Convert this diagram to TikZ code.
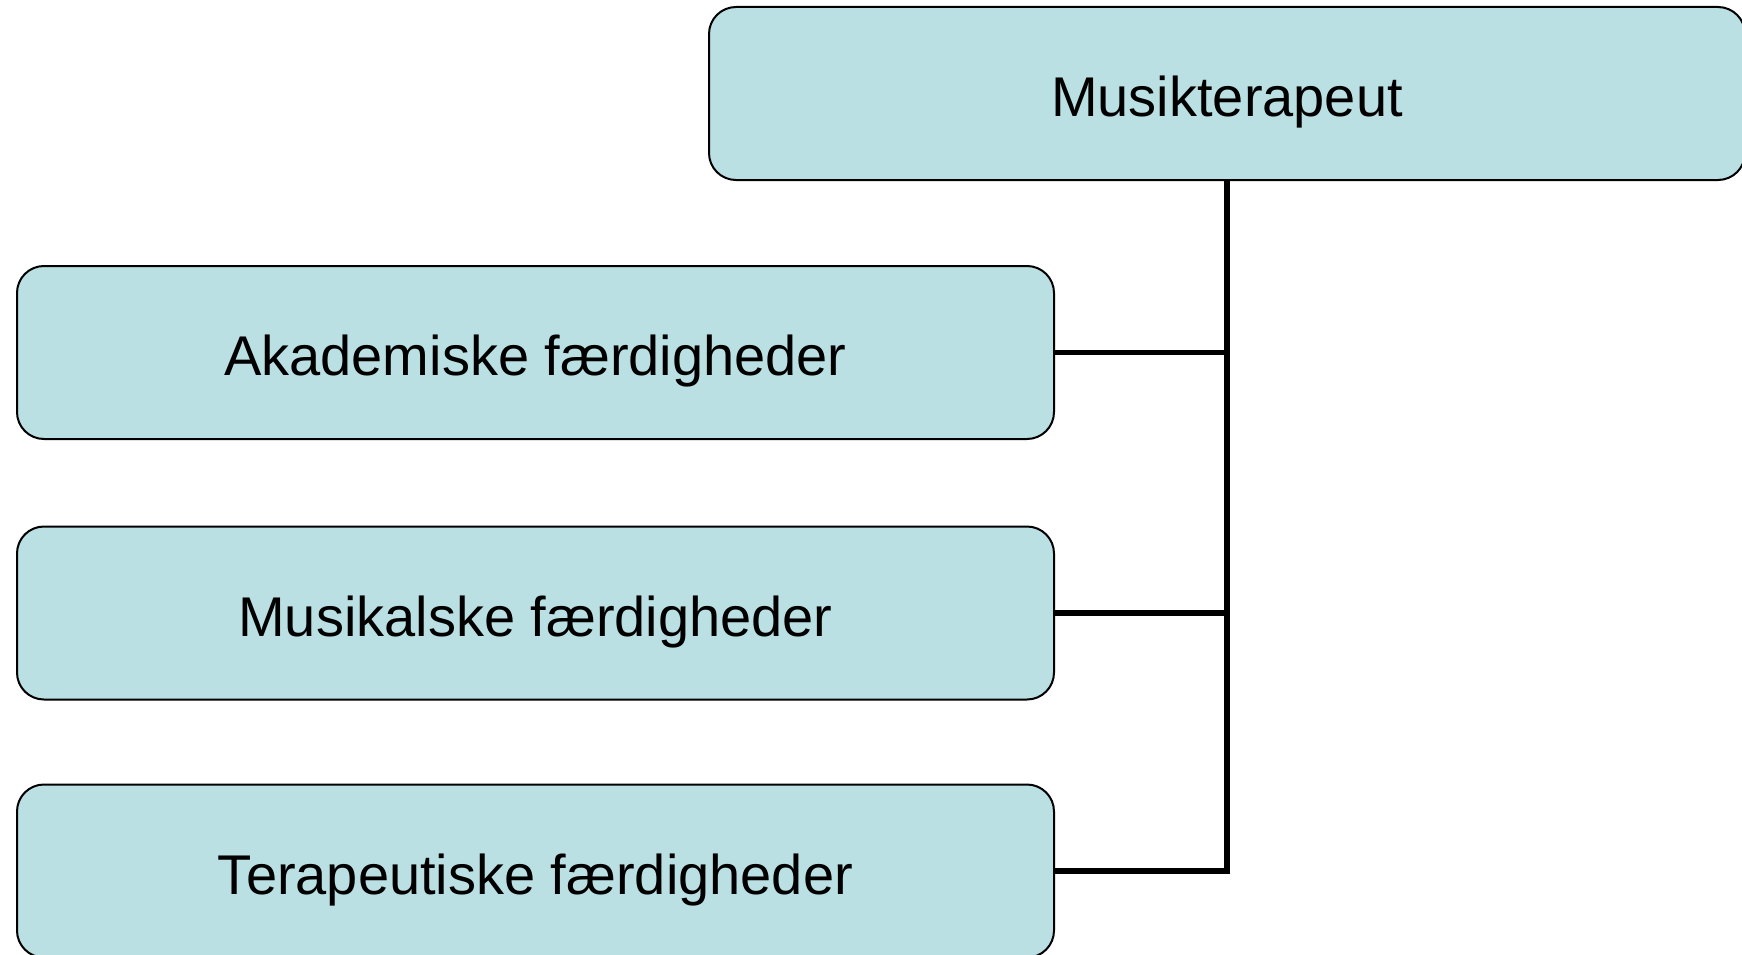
\documentclass[tikz,border=0pt]{standalone}
\usepackage{fontspec}
\setmainfont{Liberation Sans}
\begin{document}
\begin{tikzpicture}[x=1pt,y=-1pt,
  box/.style={draw=black, line width=2pt, fill={rgb,255:red,186;green,224;blue,227}, rounded corners=27pt, minimum height=173pt, inner sep=0pt, text height=46pt, text depth=0pt, font=\fontsize{56}{60}\selectfont},
  conn/.style={draw=black, line width=5.7pt}]
\useasboundingbox (0,0) rectangle (1742,955);
\node[box, minimum width=1036pt] (top) at (1227,93.5) {Musikterapeut};
\node[box, minimum width=1037pt] (a) at (535.5,352.5) {Akademiske færdigheder};
\node[box, minimum width=1037pt] (m) at (535.5,613) {Musikalske færdigheder};
\node[box, minimum width=1037pt] (t) at (535.5,871) {Terapeutiske færdigheder};
\draw[conn] (top.south) -- (top.south |- t.east) -- (t.east);
\draw[conn] (a.east) -- (a.east -| top.south);
\draw[conn] (m.east) -- (m.east -| top.south);
\end{tikzpicture}
\end{document}
